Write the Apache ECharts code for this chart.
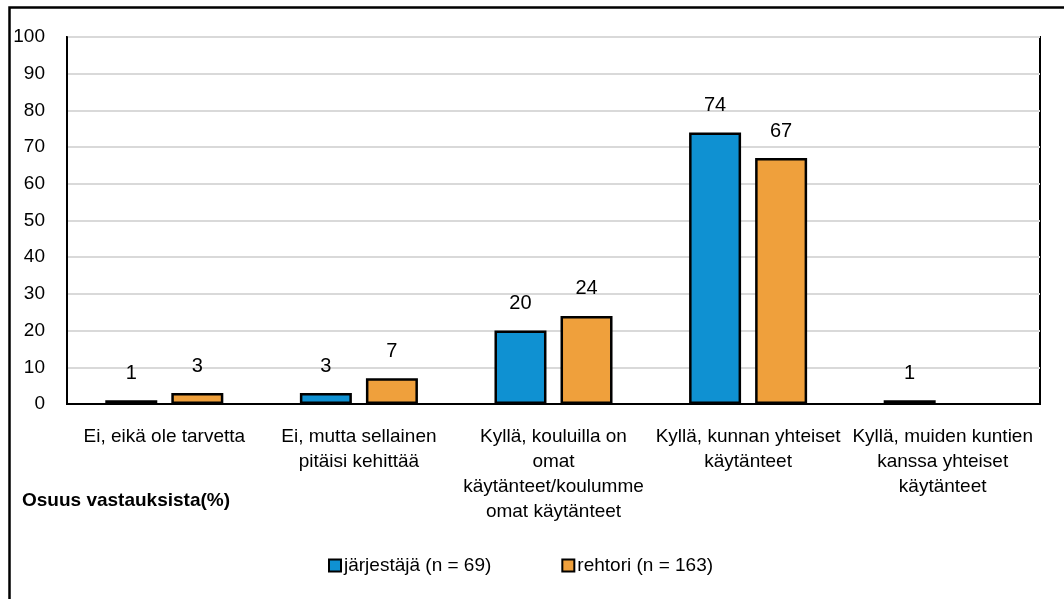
<!DOCTYPE html>
<html>
<head>
<meta charset="utf-8">
<script src="https://cdn.jsdelivr.net/npm/echarts@6/dist/echarts.min.js"></script>
<style>
html,body{margin:0;padding:0;background:#fff;}
#chart{width:1064px;height:599px;}
</style>
</head>
<body>
<div id="chart"></div>
<script>
var categories = [
    'Ei, eikä ole tarvetta',
    'Ei, mutta sellainen\npitäisi kehittää',
    'Kyllä, kouluilla on\nomat\nkäytänteet/koulumme\nomat käytänteet',
    'Kyllä, kunnan yhteiset\nkäytänteet',
    'Kyllä, muiden kuntien\nkanssa yhteiset\nkäytänteet'
];
var jarjestajaData = [1, 3, 20, 74, 1];
var rehtoriData = [3, 7, 24, 67, null];
var seriesNames = ['järjestäjä (n = 69)', 'rehtori (n = 163)'];
var yTicks = { min: 0, max: 100, interval: 10 };

var font = 'Liberation Sans, Arial, sans-serif';
var chart = echarts.init(document.getElementById('chart'));

function barSeries(name, data, color) {
    return {
        name: name,
        type: 'bar',
        data: data,
        barWidth: 52,
        barGap: '27%',
        itemStyle: {
            color: color,
            borderColor: '#000',
            borderWidth: 2.5
        },
        label: {
            show: true,
            position: 'top',
            distance: 17,
            color: '#000',
            fontFamily: font,
            fontSize: 20
        }
    };
}

var option = {
    animation: false,
    backgroundColor: '#fff',
    title: {
        text: 'Osuus vastauksista(%)',
        left: 22,
        top: 491,
        padding: 0,
        textStyle: {
            fontFamily: font,
            fontSize: 19,
            fontWeight: 'bold',
            color: '#000'
        }
    },
    graphic: [{
        type: 'rect',
        left: 7,
        top: 5,
        shape: { width: 1080, height: 620 },
        style: { fill: 'none', stroke: '#000', lineWidth: 2.5 },
        silent: true
    }],
    legend: {
        data: seriesNames,
        left: 328,
        top: 556,
        padding: 0,
        itemWidth: 12,
        itemHeight: 12,
        itemGap: 70,
        icon: 'rect',
        textStyle: {
            fontFamily: font,
            fontSize: 19,
            color: '#000',
            padding: [0, 0, 0, -2]
        }
    },
    grid: {
        left: 67,
        right: 24,
        top: 37,
        bottom: 195,
        show: true,
        borderColor: '#000',
        borderWidth: 2,
        containLabel: false
    },
    xAxis: {
        type: 'category',
        data: categories,
        axisLine: { lineStyle: { color: '#000', width: 2 } },
        axisTick: { show: false },
        axisLabel: {
            interval: 0,
            margin: 20,
            lineHeight: 25,
            color: '#000',
            fontFamily: font,
            fontSize: 19
        }
    },
    yAxis: {
        type: 'value',
        min: yTicks.min,
        max: yTicks.max,
        interval: yTicks.interval,
        axisLine: { show: true, lineStyle: { color: '#000', width: 2 } },
        axisTick: { show: false },
        splitLine: { lineStyle: { color: '#d9d9d9', width: 2 } },
        axisLabel: {
            margin: 22,
            color: '#000',
            fontFamily: font,
            fontSize: 19
        }
    },
    series: [
        barSeries(seriesNames[0], jarjestajaData, '#0f91d2'),
        barSeries(seriesNames[1], rehtoriData, '#efa03c')
    ]
};

chart.setOption(option);
</script>
</body>
</html>
